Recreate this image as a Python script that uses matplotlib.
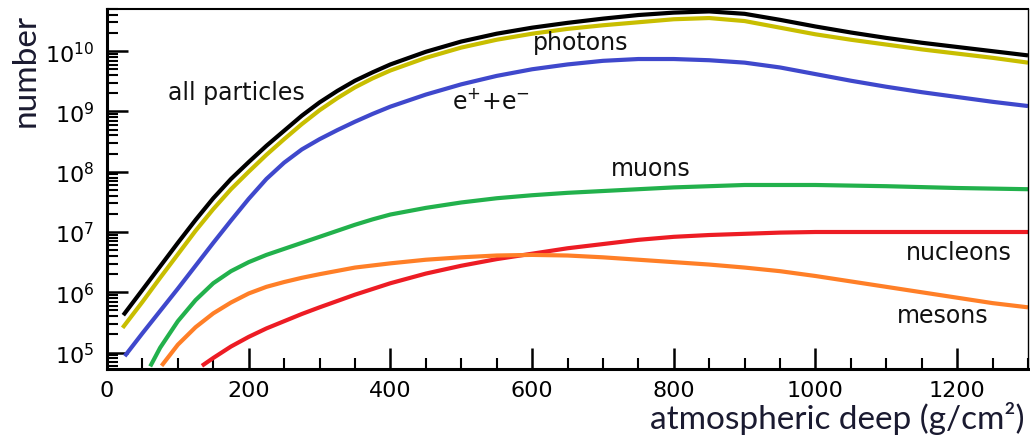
import numpy as np
import matplotlib
matplotlib.use("Agg")
import matplotlib.pyplot as plt
from matplotlib.ticker import LogLocator, MultipleLocator, NullFormatter

# ---- data (x: atmospheric depth g/cm^2, values: log10 of particle number) ----
depth_all = [23, 50, 75, 100, 125, 150, 175, 200, 225, 250, 275, 300, 325, 350, 375,
             400, 450, 500, 550, 600, 650, 700, 750, 800, 850, 900, 950, 1000, 1050,
             1100, 1150, 1200, 1250, 1300]
log_all = [5.62, 6.04, 6.43, 6.82, 7.20, 7.56, 7.88, 8.16, 8.43, 8.68, 8.93, 9.15, 9.34,
           9.51, 9.65, 9.78, 9.99, 10.16, 10.29, 10.39, 10.47, 10.54, 10.60, 10.64,
           10.66, 10.62, 10.52, 10.41, 10.31, 10.22, 10.14, 10.07, 10.00, 9.93]

depth_photons = [22, 50, 75, 100, 125, 150, 175, 200, 225, 250, 275, 300, 325, 350, 375,
                 400, 450, 500, 550, 600, 650, 700, 750, 800, 850, 900, 950, 1000, 1050,
                 1100, 1150, 1200, 1250, 1300]
log_photons = [5.41, 5.84, 6.24, 6.63, 7.02, 7.38, 7.71, 8.00, 8.28, 8.54, 8.79, 9.02,
               9.22, 9.40, 9.55, 9.68, 9.89, 10.06, 10.19, 10.29, 10.37, 10.43, 10.48,
               10.53, 10.55, 10.50, 10.39, 10.28, 10.19, 10.11, 10.03, 9.96, 9.89, 9.81]

depth_ee = [25, 50, 75, 100, 125, 150, 175, 200, 225, 250, 275, 300, 325, 350, 375, 400,
            450, 500, 550, 600, 650, 700, 750, 800, 850, 900, 950, 1000, 1050, 1100,
            1150, 1200, 1250, 1300]
log_ee = [4.94, 5.32, 5.69, 6.06, 6.44, 6.82, 7.19, 7.55, 7.88, 8.15, 8.37, 8.54, 8.69,
          8.83, 8.96, 9.08, 9.28, 9.45, 9.59, 9.70, 9.78, 9.84, 9.87, 9.87, 9.85, 9.81,
          9.73, 9.62, 9.51, 9.41, 9.32, 9.24, 9.16, 9.09]

depth_muons = [61, 75, 100, 125, 150, 175, 200, 225, 250, 275, 300, 325, 350, 375, 400,
               450, 500, 550, 600, 650, 700, 800, 900, 1000, 1100, 1200, 1300]
log_muons = [4.77, 5.08, 5.52, 5.87, 6.15, 6.35, 6.50, 6.62, 6.72, 6.82, 6.92, 7.02,
             7.12, 7.21, 7.29, 7.40, 7.49, 7.56, 7.61, 7.65, 7.68, 7.74, 7.78, 7.78,
             7.76, 7.73, 7.71]

depth_mesons = [77, 100, 125, 150, 175, 200, 225, 250, 275, 300, 350, 400, 450, 500, 550,
                600, 650, 700, 750, 800, 850, 900, 950, 1000, 1050, 1100, 1150, 1200,
                1250, 1300]
log_mesons = [4.78, 5.13, 5.42, 5.65, 5.83, 5.98, 6.09, 6.17, 6.24, 6.30, 6.41, 6.48,
              6.54, 6.58, 6.61, 6.62, 6.61, 6.58, 6.54, 6.50, 6.46, 6.41, 6.35, 6.27,
              6.18, 6.09, 6.00, 5.91, 5.82, 5.75]

depth_nucleons = [134, 150, 175, 200, 225, 250, 275, 300, 350, 400, 450, 500, 550, 600,
                  650, 700, 750, 800, 850, 900, 950, 1000, 1100, 1200, 1300]
log_nucleons = [4.78, 4.91, 5.10, 5.26, 5.40, 5.52, 5.64, 5.75, 5.96, 6.15, 6.31, 6.44,
                6.55, 6.64, 6.73, 6.80, 6.87, 6.92, 6.95, 6.97, 6.99, 7.00, 7.00, 7.00,
                7.00]

series = [
    (depth_nucleons, log_nucleons, "#ED1C24"),
    (depth_mesons, log_mesons, "#FF7F27"),
    (depth_muons, log_muons, "#22B14C"),
    (depth_ee, log_ee, "#3F48CC"),
    (depth_photons, log_photons, "#C8BE00"),
    (depth_all, log_all, "#000000"),
]

labels = ["all particles", "photons", "e$^{+}$+e$^{-}$", "muons", "nucleons", "mesons"]
label_x = [182, 669, 542, 768, 1203, 1180]
label_logy = [9.20, 10.03, 9.055, 7.94, 6.55, 5.506]

x_ticks = [0, 200, 400, 600, 800, 1000, 1200]

W, H = 1030, 439
fig = plt.figure(figsize=(W / 100, H / 100), dpi=100)
ax = fig.add_axes([107 / W, 1 - 370 / H, (1028 - 107) / W, (370 - 10) / H])

for xs, ls, col in series:
    ax.plot(xs, 10 ** np.array(ls), color=col, lw=3.0, solid_capstyle="butt",
            solid_joinstyle="round")

ax.set_yscale("log")
ax.set_xlim(0, 1300)
ax.set_ylim(10 ** 4.727, 10 ** 10.70)

ax.set_xticks(x_ticks)
ax.xaxis.set_minor_locator(MultipleLocator(50))
ax.yaxis.set_major_locator(LogLocator(base=10, numticks=20))
ax.yaxis.set_minor_locator(LogLocator(base=10, subs=np.arange(2, 10), numticks=20))
ax.yaxis.set_minor_formatter(NullFormatter())

ax.tick_params(which="major", direction="in", length=15, width=1.8, labelsize=16,
               colors="black")
ax.tick_params(axis="x", which="major", pad=8)
ax.tick_params(axis="y", which="major", pad=9)
ax.tick_params(which="minor", direction="in", length=8, width=1.5)
ax.tick_params(top=False, right=False, which="both")

ax.spines["left"].set_linewidth(2.2)
ax.spines["bottom"].set_linewidth(2.2)
ax.spines["top"].set_linewidth(1.5)
ax.spines["right"].set_linewidth(1.0)

for t, x, ly in zip(labels, label_x, label_logy):
    ax.text(x, 10 ** ly, t, ha="center", va="baseline", fontsize=17, color="#111111")

fig.text(1025 / W, 1 - 419 / H, "atmospheric deep (g/cm²)", ha="right", va="center",
         fontsize=24, color="#1a1a30", family="Lato")
fig.text(26 / W, 1 - 70 / H, "number", ha="center", va="center", rotation=90,
         fontsize=24, color="#1a1a30", family="Lato")

fig.savefig("out.png", dpi=100)
